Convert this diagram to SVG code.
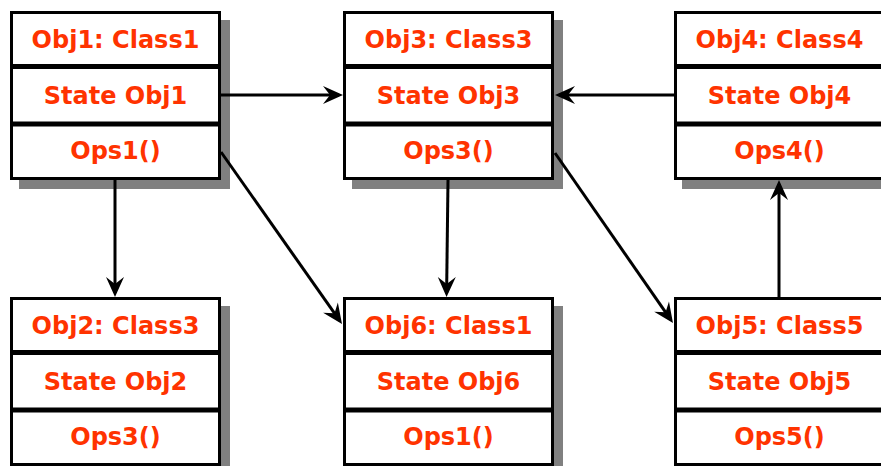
<svg xmlns="http://www.w3.org/2000/svg" width="881" height="466" viewBox="0 0 881 466">
  <style>
    .shadow { fill: #808080; }
    .box { fill: #ffffff; stroke: #000000; stroke-width: 3; }
    .div { stroke: #000000; stroke-width: 5; }
    .lbl { font-family: "DejaVu Sans", "Liberation Sans", sans-serif; font-weight: bold; font-size: 24px; fill: #ff3300; text-anchor: middle; }
    .conn { stroke: #000000; stroke-width: 3; fill: none; marker-end: url(#head); }
  </style>
  <defs>
    <marker id="head" markerUnits="userSpaceOnUse" markerWidth="28" markerHeight="22" viewBox="-20 -11 28 22" refX="0" refY="0" orient="auto">
      <path d="M4,0 L-16,-9 L-9,0 L-16,9 Z" fill="#000000"/>
    </marker>
  </defs>

  <rect width="881" height="466" fill="#ffffff"/>

  <!-- top row -->
  <g id="obj1">
    <rect class="shadow" x="19" y="20" width="211" height="169"/>
    <rect class="box" x="11.5" y="12.5" width="208" height="166"/>
    <line class="div" x1="11.5" y1="66.5" x2="219.5" y2="66.5"/>
    <line class="div" x1="11.5" y1="124" x2="219.5" y2="124"/>
    <text class="lbl" x="115.5" y="48">Obj1: Class1</text>
    <text class="lbl" x="115.5" y="104">State Obj1</text>
    <text class="lbl" x="115.5" y="159">Ops1()</text>
  </g>

  <g id="obj3">
    <rect class="shadow" x="352" y="20" width="211" height="169"/>
    <rect class="box" x="344.5" y="12.5" width="208" height="166"/>
    <line class="div" x1="344.5" y1="66.5" x2="552.5" y2="66.5"/>
    <line class="div" x1="344.5" y1="124" x2="552.5" y2="124"/>
    <text class="lbl" x="448.5" y="48">Obj3: Class3</text>
    <text class="lbl" x="448.5" y="104">State Obj3</text>
    <text class="lbl" x="448.5" y="159">Ops3()</text>
  </g>

  <g id="obj4">
    <rect class="shadow" x="682" y="20" width="211" height="169"/>
    <rect class="box" x="675.5" y="12.5" width="208" height="166"/>
    <line class="div" x1="675.5" y1="66.5" x2="883.5" y2="66.5"/>
    <line class="div" x1="675.5" y1="124" x2="883.5" y2="124"/>
    <text class="lbl" x="779.5" y="48">Obj4: Class4</text>
    <text class="lbl" x="779.5" y="104">State Obj4</text>
    <text class="lbl" x="779.5" y="159">Ops4()</text>
  </g>

  <!-- bottom row -->
  <g id="obj2">
    <rect class="shadow" x="19" y="306" width="211" height="169"/>
    <rect class="box" x="11.5" y="298.5" width="208" height="166"/>
    <line class="div" x1="11.5" y1="352.5" x2="219.5" y2="352.5"/>
    <line class="div" x1="11.5" y1="410" x2="219.5" y2="410"/>
    <text class="lbl" x="115.5" y="334">Obj2: Class3</text>
    <text class="lbl" x="115.5" y="390">State Obj2</text>
    <text class="lbl" x="115.5" y="445">Ops3()</text>
  </g>

  <g id="obj6">
    <rect class="shadow" x="352" y="306" width="211" height="169"/>
    <rect class="box" x="344.5" y="298.5" width="208" height="166"/>
    <line class="div" x1="344.5" y1="352.5" x2="552.5" y2="352.5"/>
    <line class="div" x1="344.5" y1="410" x2="552.5" y2="410"/>
    <text class="lbl" x="448.5" y="334">Obj6: Class1</text>
    <text class="lbl" x="448.5" y="390">State Obj6</text>
    <text class="lbl" x="448.5" y="445">Ops1()</text>
  </g>

  <g id="obj5">
    <rect class="shadow" x="682" y="306" width="211" height="169"/>
    <rect class="box" x="675.5" y="298.5" width="208" height="166"/>
    <line class="div" x1="675.5" y1="352.5" x2="883.5" y2="352.5"/>
    <line class="div" x1="675.5" y1="410" x2="883.5" y2="410"/>
    <text class="lbl" x="779.5" y="334">Obj5: Class5</text>
    <text class="lbl" x="779.5" y="390">State Obj5</text>
    <text class="lbl" x="779.5" y="445">Ops5()</text>
  </g>

  <!-- connectors -->
  <g id="connectors">
    <line class="conn" x1="221" y1="95" x2="339" y2="95"/>
    <line class="conn" x1="674" y1="95" x2="559" y2="95"/>
    <line class="conn" x1="115" y1="180" x2="115" y2="293"/>
    <line class="conn" x1="448" y1="180" x2="446.6" y2="293"/>
    <line class="conn" x1="221" y1="152" x2="339.7" y2="320.7"/>
    <line class="conn" x1="555" y1="153" x2="670.7" y2="319.7"/>
    <line class="conn" x1="779" y1="297" x2="779" y2="184"/>
  </g>
</svg>
